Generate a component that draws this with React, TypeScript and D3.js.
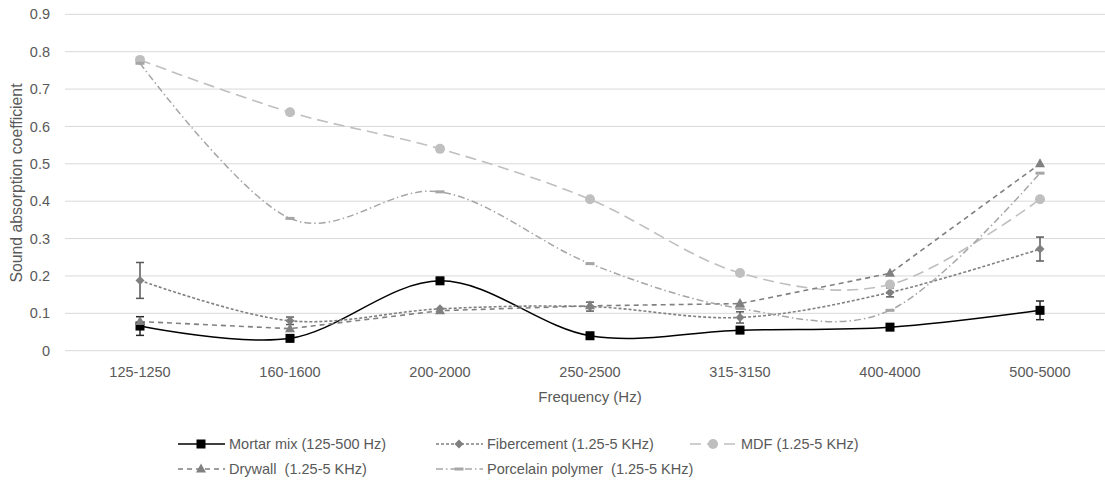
import React from "react";
import * as d3 from "d3";

const categories = ["125-1250", "160-1600", "200-2000", "250-2500", "315-3150", "400-4000", "500-5000"];
const yTicks = [0, 0.1, 0.2, 0.3, 0.4, 0.5, 0.6, 0.7, 0.8, 0.9];

const mortar = [0.066, 0.033, 0.187, 0.04, 0.055, 0.063, 0.108];
const mortarErr = [0.025, 0, 0, 0, 0, 0, 0.025];
const fibercement = [0.188, 0.08, 0.112, 0.118, 0.089, 0.156, 0.272];
const fibercementErr = [0.048, 0.01, 0, 0.012, 0.015, 0.012, 0.032];
const mdf = [0.778, 0.638, 0.54, 0.405, 0.208, 0.177, 0.405];
const drywall = [0.078, 0.059, 0.107, 0.12, 0.126, 0.207, 0.5];
const porcelain = [0.769, 0.354, 0.425, 0.233, 0.113, 0.108, 0.475];

type Series = {
  name: string;
  values: number[];
  err?: number[];
  color: string;
  errColor?: string;
  dash: string;
  width: number;
  marker: "square" | "diamond" | "circle" | "triangle" | "dash";
  smooth: boolean;
};

const series: Series[] = [
  { name: "Mortar mix (125-500 Hz)", values: mortar, err: mortarErr, color: "#000000", errColor: "#262626", dash: "", width: 1.5, marker: "square", smooth: true },
  { name: "Fibercement (1.25-5 KHz)", values: fibercement, err: fibercementErr, color: "#808080", errColor: "#595959", dash: "3,2", width: 1.6, marker: "diamond", smooth: true },
  { name: "MDF (1.25-5 KHz)", values: mdf, color: "#bfbfbf", dash: "11,6", width: 1.6, marker: "circle", smooth: true },
  { name: "Drywall  (1.25-5 KHz)", values: drywall, color: "#808080", dash: "5,4", width: 1.6, marker: "triangle", smooth: false },
  { name: "Porcelain polymer  (1.25-5 KHz)", values: porcelain, color: "#a6a6a6", dash: "7,3,1.5,3", width: 1.5, marker: "dash", smooth: true },
];

const W = 1105;
const H = 482;
const FONT = "'Liberation Sans', Arial, sans-serif";
const TXT = "#595959";

function Marker({ kind, x, y, color }: { kind: Series["marker"]; x: number; y: number; color: string }) {
  switch (kind) {
    case "square":
      return <rect x={x - 4.5} y={y - 4.5} width={9} height={9} fill={color} />;
    case "diamond":
      return <path d={`M${x},${y - 4.5}L${x + 4.5},${y}L${x},${y + 4.5}L${x - 4.5},${y}Z`} fill={color} />;
    case "circle":
      return <circle cx={x} cy={y} r={5} fill={color} />;
    case "triangle":
      return <path d={`M${x},${y - 5.5}L${x + 5},${y + 3.5}L${x - 5},${y + 3.5}Z`} fill={color} />;
    case "dash":
      return <rect x={x - 4.5} y={y - 1.5} width={9} height={3} fill={color} />;
  }
}

export default function App() {
  const x = d3.scaleBand<string>().domain(categories).range([65, 1115]);
  const y = d3.scaleLinear().domain([0, 0.9]).range([350.7, 14.3]);
  const cx = (c: string) => (x(c) as number) + x.bandwidth() / 2;

  const legendItems = [
    { s: series[0], lx: 178, ly: 444 },
    { s: series[1], lx: 436, ly: 444 },
    { s: series[2], lx: 690, ly: 444 },
    { s: series[3], lx: 178, ly: 469 },
    { s: series[4], lx: 436, ly: 469 },
  ];

  return (
    <svg width={W} height={H} style={{ position: "absolute", left: 0, top: 0, background: "#fff" }} fontFamily={FONT}>
      {yTicks.map((t) => (
        <line key={t} x1={65} x2={W} y1={y(t)} y2={y(t)} stroke="#d9d9d9" strokeWidth={1} />
      ))}
      {yTicks.map((t) => (
        <text key={t} x={50} y={y(t)} dy="0.35em" textAnchor="end" fontSize={14.5} fill={TXT}>
          {t === 0 ? "0" : t.toFixed(1)}
        </text>
      ))}
      {categories.map((c) => (
        <text key={c} x={cx(c)} y={372} dy="0.35em" textAnchor="middle" fontSize={14.5} fill={TXT}>
          {c}
        </text>
      ))}
      <text x={590} y={397} dy="0.35em" textAnchor="middle" fontSize={15} fill={TXT}>
        Frequency (Hz)
      </text>
      <text transform={`translate(16,183) rotate(-90)`} dy="0.35em" textAnchor="middle" fontSize={15.8} fill={TXT}>
        Sound absorption coefficient
      </text>

      {series.map((s) => {
        const line = d3
          .line<number>()
          .x((_, i) => cx(categories[i]))
          .y((v) => y(v))
          .curve(s.smooth ? d3.curveCardinal.tension(0) : d3.curveLinear);
        return (
          <g key={s.name}>
            {s.err &&
              s.values.map((v, i) =>
                s.err![i] > 0 ? (
                  <g key={i} stroke={s.errColor} strokeWidth={1.5}>
                    <line x1={cx(categories[i])} x2={cx(categories[i])} y1={y(v + s.err![i])} y2={y(v - s.err![i])} />
                    <line x1={cx(categories[i]) - 4} x2={cx(categories[i]) + 4} y1={y(v + s.err![i])} y2={y(v + s.err![i])} />
                    <line x1={cx(categories[i]) - 4} x2={cx(categories[i]) + 4} y1={y(v - s.err![i])} y2={y(v - s.err![i])} />
                  </g>
                ) : null
              )}
            <path d={line(s.values) || ""} fill="none" stroke={s.color} strokeWidth={s.width} strokeDasharray={s.dash} />
            {s.values.map((v, i) => (
              <Marker key={i} kind={s.marker} x={cx(categories[i])} y={y(v)} color={s.color} />
            ))}
          </g>
        );
      })}

      {legendItems.map(({ s, lx, ly }) => (
        <g key={s.name}>
          <line x1={lx} x2={lx + 47} y1={ly} y2={ly} stroke={s.color} strokeWidth={s.width} strokeDasharray={s.dash} />
          <Marker kind={s.marker} x={lx + 23} y={ly} color={s.color} />
          <text x={lx + 51} y={ly} dy="0.35em" fontSize={14.5} fill={TXT} style={{ whiteSpace: "pre" }}>
            {s.name}
          </text>
        </g>
      ))}
    </svg>
  );
}
